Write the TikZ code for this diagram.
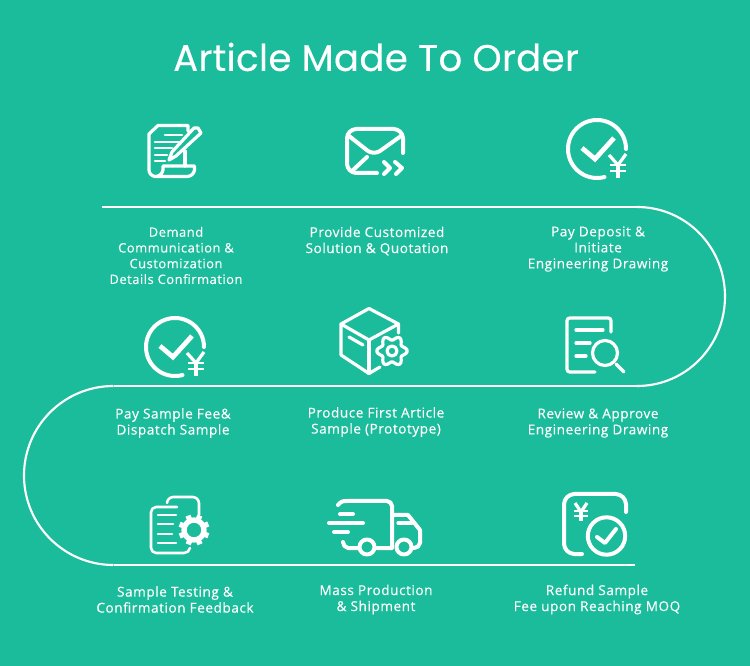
\documentclass[tikz,border=0pt]{standalone}
\usepackage{fontspec}
\setmainfont[LetterSpace=4,FakeBold=0.25]{Open Sans}
\newfontfamily\titlefont[LetterSpace=1,FakeBold=0.3]{Poppins}
\pgfdeclarelayer{nodelayer}
\pgfdeclarelayer{edgelayer}
\pgfsetlayers{edgelayer,nodelayer,main}
\definecolor{sheetgreen}{RGB}{27,188,155}
\tikzset{
	caption/.style={text=white,align=center,inner sep=0pt,font=\fontsize{10.2}{12}\selectfont},
	icon/.style={draw=white,line width=3pt,line cap=round,line join=round},
	midicon/.style={draw=white,line width=2.4pt,line cap=round,line join=round},
	thinicon/.style={draw=white,line width=1.9pt,line cap=round,line join=round},
	payicon/.pic={
		\draw [icon] plot [domain=0:285,samples=60] ({597+29*cos(\x)},{149-29*sin(\x)});
		\draw [icon,line width=3.6pt,line cap=butt,line join=miter] (582,148) to (595,159) to (614,138);
		\draw [midicon,line cap=butt] (609,155) to (618,165) to (626,154);
		\draw [midicon,line cap=butt] (618,165) to (618,178);
		\draw [thinicon,line cap=butt] (610,165) to (626,165);
		\draw [thinicon,line cap=butt] (610,171) to (626,171);
	}
}

\begin{document}
\begin{tikzpicture}[x=0.75pt,y=-0.75pt]
	\useasboundingbox (0,0) rectangle (750,666);
	\begin{pgfonlayer}{nodelayer}
		\node [text=white,inner sep=0pt,font=\titlefont\fontsize{27.8}{34}\selectfont] (title) at (376,57) {Article Made To Order};
		\node [caption,font=\fontsize{9.7}{11.8}\selectfont] (demand) at (176,255.5) {Demand\\Communication \&\\Customization\\Details Confirmation};
		\node [caption] (solution) at (377,241) {Provide Customized\\Solution \& Quotation};
		\node [caption] (deposit) at (598,249) {Pay Deposit \&\\Initiate\\Engineering Drawing};
		\node [caption] (samplefee) at (173,423) {Pay Sample Fee\&\\Dispatch Sample};
		\node [caption] (firstarticle) at (376,422) {Produce First Article\\Sample (Prototype)};
		\node [caption] (review) at (598,423) {Review \& Approve\\Engineering Drawing};
		\node [caption] (testing) at (175,599.5) {Sample Testing \&\\Confirmation Feedback};
		\node [caption] (shipment) at (376,599.5) {Mass Production\\\& Shipment};
		\node [caption] (refund) at (597,599.5) {Refund Sample\\Fee upon Reaching MOQ};
	\end{pgfonlayer}
	\begin{pgfonlayer}{edgelayer}
		\fill [sheetgreen] (0,0) rectangle (750,666);
		\coordinate (linestart) at (102,207);
		\coordinate (topright) at (637,207);
		\coordinate (midright) at (637,386);
		\coordinate (midleft) at (113.5,386);
		\coordinate (lowleft) at (113.5,565);
		\coordinate (lineend) at (635,565);
		\draw [white,line width=2.2pt] (linestart) to (topright);
		\draw [white,line width=1.6pt] (topright)
			.. controls (686,207) and (725,247) .. (725,296.5)
			.. controls (725,346) and (686,386) .. (midright);
		\draw [white,line width=2.2pt] (midright) to (midleft);
		\draw [white,line width=1.6pt] (midleft)
			.. controls (64,386) and (24,426) .. (24,475.5)
			.. controls (24,525) and (64,565) .. (lowleft);
		\draw [white,line width=2.2pt] (lowleft) to (lineend);

		% demand
		\draw [midicon] (188,131) to (188,125.5) to (158,125.5) to (149,134) to (149,170) to [bend right=40] (155,176.5) to (187,176.5) to [bend right=40] (194.5,170) to (194.5,166) to (163,166) to (163,170) to [bend left=40] (155,176.5);
		\draw [midicon] (185,151) to (185,166);
		\draw [thinicon] (165,135) to (182,135);
		\draw [thinicon] (155,142) to (180,142);
		\draw [thinicon] (155,148) to (172,148);
		\draw [thinicon] (155,155) to (167,155);
		\draw [thinicon] (155,161) to (165,161);
		\draw [midicon] (194,128) to (198,128) to (201,133) to (176,156) to (169,160) to (172,152) to cycle;

		% solution
		\draw [icon] (377,173) to (356,173) to [bend left=40] (347,164) to (347,138) to [bend left=40] (356,129) to (394,129) to [bend left=40] (403,138) to (403,153);
		\draw [icon] (349,136) to (368,151) to [bend right=30] (380,151) to (401,136);
		\draw [icon] (352,171) to (367,157);
		\draw [icon] (384,162) to (390,168) to (384,174);
		\draw [icon] (395,162) to (402,168) to (396,174);

		% deposit, samplefee
		\pic {payicon};
		\pic at (-422,198) {payicon};

		% firstarticle
		\draw [midicon] (398.5,333) to (398.5,324) to (369,308.5) to (341,324) to (341,355) to (369,373.5) to (380,367);
		\draw [midicon] (341,324) to (369,340) to (398.5,324);
		\draw [midicon] (369,340) to (369,373.5);
		\draw [midicon] (349,337) to (363,345);
		\draw [midicon] plot [smooth cycle,domain=0:355,samples=72] ({392+(13+2.2*cos(6*\x))*cos(\x)},{351+(13+2.2*cos(6*\x))*sin(\x)});
		\draw [midicon] (392,351) circle [radius=5];

		% review
		\draw [midicon,rounded corners=2pt] (611,332) to (611,318) to (567,318) to (567,372) to (595,372);
		\draw [midicon] (576,330) to (603,330);
		\draw [midicon] (576,343) to (590,343);
		\draw [midicon] (576,356) to (586,356);
		\draw [midicon] (605,353) circle [radius=12.5];
		\draw [midicon] (616,364) to (624,372);

		% testing
		\draw [thinicon] (177,507) to (156,507) to [bend right=40] (151,512) to (151,548) to [bend right=40] (156,553) to (184,553) to [bend right=40] (190,548);
		\draw [thinicon] (167,503) to [bend left=40] (173,497) to (193,497) to [bend left=40] (199,503) to (199,515);
		\draw [thinicon] (158,515) to (176,515);
		\draw [thinicon] (158,524) to (173,524);
		\draw [thinicon] (158,534) to (172,534);
		\draw [thinicon] (158,543) to (176,543);
		\draw [white,line width=4pt] (194,530) circle [radius=10];
		\foreach \a in {0,45,...,315}
			\draw [white,line width=4pt] ({194+11*cos(\a+22)},{530+11*sin(\a+22)}) to ({194+15.5*cos(\a+22)},{530+15.5*sin(\a+22)});

		% shipment
		\draw [icon] (338,505) to [bend left=30] (347,501) to (387,501) to [bend left=40] (392,506) to (392,548) to (377,548);
		\draw [icon] (392,515) to (408,515) to (420,530) to (420,543) to [bend left=40] (414,548);
		\draw [midicon] (398,523) to (412,523);
		\draw [icon] (343,542) to [bend right=40] (348,548) to (358,548);
		\draw [icon] (340,514) to (353,514);
		\draw [icon] (329,523) to (363,523);
		\draw [icon] (334,532) to (348,532);
		\draw [icon] (367,547) circle [radius=7.5];
		\draw [icon] (404,547) circle [radius=7.5];

		% refund
		\draw [icon] (582,554) to (574,554) to [bend left=40] (564,544) to (564,504) to [bend left=40] (574,494) to (616,494) to [bend left=40] (626,504) to (626,512);
		\draw [midicon,line cap=butt] (575,503) to (581,512) to (587,503);
		\draw [midicon,line cap=butt] (581,512) to (581,521);
		\draw [thinicon,line cap=butt] (574,511) to (588,511);
		\draw [thinicon,line cap=butt] (574,516) to (588,516);
		\draw [icon] (606.5,536) circle [radius=18.7];
		\draw [icon] (597,537) to (605,543) to (616,529);
	\end{pgfonlayer}
\end{tikzpicture}
\end{document}
